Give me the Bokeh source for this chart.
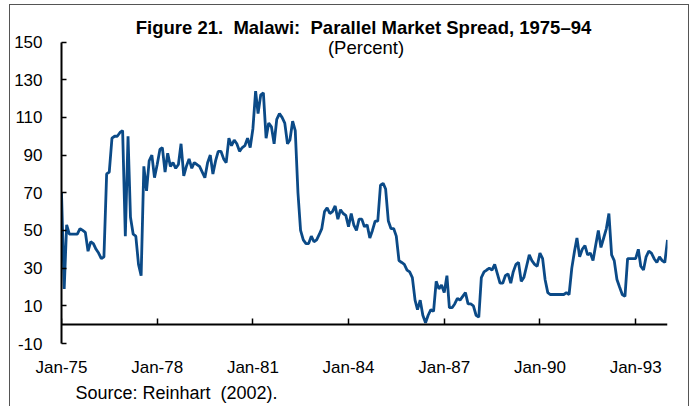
import numpy as np
from bokeh.plotting import figure
from bokeh.models import (Range1d, FixedTicker, DatetimeTickFormatter, Label, ColumnDataSource,
                          DatetimeAxis, Title, CustomJSTickFormatter)
from bokeh.embed import file_html
from bokeh.resources import INLINE

# Monthly parallel market spread (percent), Jan 1975 - Jan 1994
v1975 = [70, 19, 53, 48, 48, 48, 48, 51, 50, 49, 39, 44]
v1976 = [43, 40, 38, 35, 36, 80, 81, 99, 100, 100, 102, 103]
v1977 = [47, 100, 57, 48, 47, 32, 26, 84, 71, 87, 90, 78]
v1978 = [85, 93, 94, 81, 91, 84, 86, 83, 85, 96, 79, 84]
v1979 = [88, 83, 86, 85, 84, 81, 78, 86, 90, 80, 87, 92]
v1980 = [92, 88, 86, 99, 95, 98, 96, 92, 94, 95, 99, 94]
v1981 = [104, 124, 112, 122, 123, 99, 107, 105, 96, 109, 112, 110]
v1982 = [107, 96, 98, 108, 103, 70, 50, 45, 43, 43, 47, 44]
v1983 = [45, 48, 51, 60, 62, 59, 60, 63, 56, 61, 59, 58]
v1984 = [52, 59, 53, 50, 56, 56, 52, 53, 46, 50, 55, 55]
v1985 = [74, 75, 72, 55, 51, 51, 47, 34, 33, 32, 29, 28]
v1986 = [25, 13, 8, 13, 5, 1, 5, 8, 7, 23, 19, 21]
v1987 = [17, 26, 9, 9, 11, 14, 13, 15, 17, 11, 11, 10]
v1988 = [5, 4, 25, 28, 29, 30, 29, 32, 27, 22, 22, 26]
v1989 = [27, 22, 28, 32, 33, 23, 25, 31, 37, 34, 32, 31]
v1990 = [38, 35, 24, 17, 16, 16, 16, 16, 16, 16, 17, 16]
v1991 = [30, 39, 46, 36, 40, 42, 37, 38, 34, 42, 50, 41]
v1992 = [46, 51, 59, 37, 34, 24, 20, 16, 15, 35, 35, 35]
v1993 = [35, 40, 31, 29, 36, 39, 38, 35, 33, 36, 34, 33]
v1994 = [45]

spread = (v1975 + v1976 + v1977 + v1978 + v1979 + v1980 + v1981 + v1982 + v1983 +
          v1984 + v1985 + v1986 + v1987 + v1988 + v1989 + v1990 + v1991 + v1992 +
          v1993 + v1994)
months = np.arange(np.datetime64("1975-01"), np.datetime64("1975-01") + len(spread),
                   dtype="datetime64[M]").astype("datetime64[ms]")

tick_years = [1975, 1978, 1981, 1984, 1987, 1990, 1993]
y_ticks = [-10, 10, 30, 50, 70, 90, 110, 130, 150]

title_text = "Figure 21.\u00a0 Malawi:\u00a0 Parallel Market Spread, 1975\u201394"
subtitle_text = "(Percent)"
source_text = "Source: Reinhart\u00a0 (2002)."

def ms(y, m=1):
    return float(np.datetime64(f"{y:04d}-{m:02d}", "ms").astype("int64"))

src = ColumnDataSource(data=dict(date=months, spread=spread))

FONT = "Liberation Sans"
fmt = "%b-%y"
x_ticks = [ms(y) for y in tick_years]

# frame extends above the 150 tick so the title texts sit inside it
p = figure(width=680, height=402, x_axis_type="datetime",
           output_backend="svg", toolbar_location=None,
           x_range=Range1d(ms(1975), ms(1994)), y_range=Range1d(-10, 169.4),
           min_border_left=51, min_border_right=23, min_border_top=0,
           min_border_bottom=64,
           styles={"position": "relative", "left": "9px", "top": "4px",
                   "border-left": "1px solid #555", "border-top": "1px solid #555",
                   "border-right": "1px solid #555"})
p.outline_line_color = None
p.xgrid.visible = False
p.ygrid.visible = False
p.background_fill_color = "white"

p.line("date", "spread", source=src, line_color="#0B4A87", line_width=2.8)

# y axis
ya = p.yaxis[0]
ya.ticker = FixedTicker(ticks=y_ticks)
ya.bounds = (-10, 150)
ya.formatter = CustomJSTickFormatter(code="return tick.toString()")
ya.major_tick_in = 5
ya.major_tick_out = 0
ya.minor_tick_line_color = None
ya.axis_line_width = 2
ya.major_tick_line_width = 1.5
ya.major_label_text_font = FONT
ya.major_label_text_font_size = "17px"
ya.major_label_text_color = "black"
ya.major_label_standoff = 19

# bottom axis: labels only
xa = p.xaxis[0]
xa.ticker = FixedTicker(ticks=x_ticks)
xa.formatter = DatetimeTickFormatter(milliseconds=fmt, seconds=fmt, minsec=fmt, minutes=fmt,
                                     hourmin=fmt, hours=fmt, days=fmt, months=fmt, years=fmt)
xa.axis_line_color = None
xa.major_tick_line_color = None
xa.minor_tick_line_color = None
xa.major_tick_in = 0
xa.major_tick_out = 0
xa.major_label_text_font = FONT
xa.major_label_text_font_size = "17px"
xa.major_label_text_color = "black"
xa.major_label_standoff = 14

# axis line crossing at zero with inward ticks
xz = DatetimeAxis(ticker=FixedTicker(ticks=x_ticks), fixed_location=0,
                  major_tick_in=6, major_tick_out=0, axis_line_width=2,
                  major_tick_line_width=1.5, minor_tick_line_color=None,
                  major_label_text_font_size="0px", major_label_standoff=0,
                  major_label_text_alpha=0)
p.add_layout(xz, "below")

p.add_layout(Label(x=302, y=316, x_units="screen", y_units="screen", text=title_text,
                   text_align="center", text_baseline="alphabetic", text_font=FONT,
                   text_font_style="bold", text_font_size="18.5px", text_color="black"))
p.add_layout(Label(x=304.5, y=296, x_units="screen", y_units="screen", text=subtitle_text,
                   text_align="center", text_baseline="alphabetic", text_font=FONT,
                   text_font_size="18.5px", text_color="black"))

p.add_layout(Title(text=source_text, align="left", offset=14, text_font=FONT,
                   text_font_size="18px", text_font_style="normal", text_color="black",
                   standoff=3), "below")

open("out.html", "w").write(file_html(p, INLINE))
